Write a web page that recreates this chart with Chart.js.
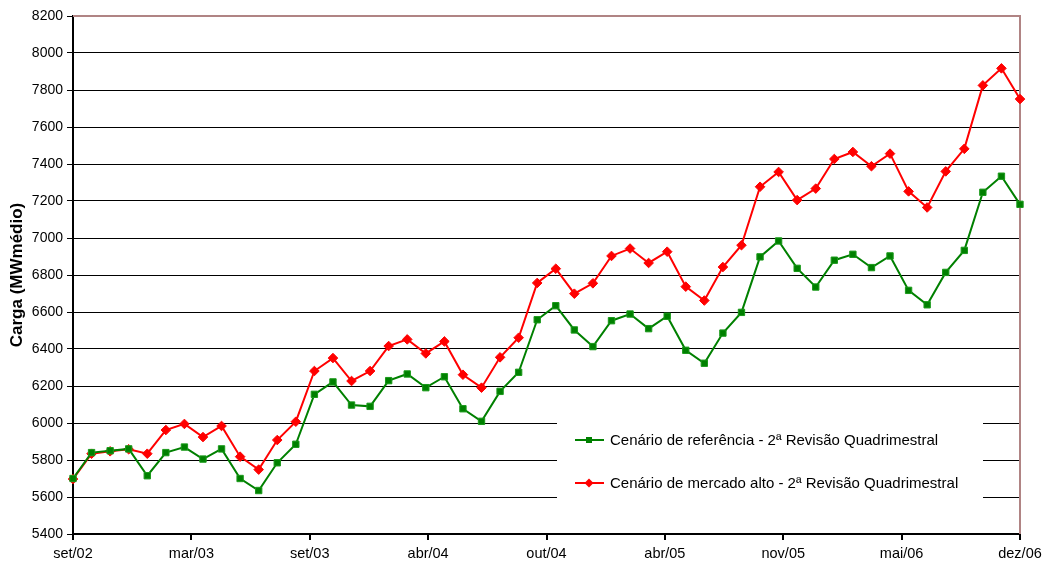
<!DOCTYPE html>
<html>
<head>
<meta charset="utf-8">
<script src="https://cdn.jsdelivr.net/npm/chart.js@4/dist/chart.umd.min.js"></script>
<style>
  html, body { margin: 0; padding: 0; background: #fff; }
  #wrap { position: relative; width: 1050px; height: 568px; }
</style>
</head>
<body>
<div id="wrap"><canvas id="chart"></canvas></div>
<script>
// x positions are month indexes from set/02 (0) to dez/06 (51)
const months = Array.from({ length: 52 }, (_, i) => i)
const tickLabels = ['set/02', 'mar/03', 'set/03', 'abr/04', 'out/04', 'abr/05', 'nov/05', 'mai/06', 'dez/06']

const referencia = [
  5700, 5840, 5850, 5860, 5715, 5840, 5870, 5805, 5860, 5700, 5635, 5785, 5885,
  6155, 6222, 6097, 6090, 6229, 6265, 6191, 6250, 6077, 6009, 6171, 6274, 6558,
  6634, 6503, 6413, 6553, 6589, 6510, 6577, 6393, 6323, 6486, 6598, 6898, 6984,
  6836, 6735, 6880, 6912, 6840, 6903, 6717, 6639, 6814, 6933, 7247, 7334, 7182
]
const mercadoAlto = [
  5697, 5834, 5847, 5858, 5834, 5962, 5995, 5924, 5984, 5818, 5748, 5908, 6007,
  6281, 6351, 6227, 6281, 6416, 6452, 6376, 6441, 6261, 6191, 6355, 6461, 6757,
  6834, 6699, 6755, 6903, 6943, 6865, 6926, 6737, 6662, 6843, 6961, 7277, 7357,
  7205, 7267, 7427, 7465, 7388, 7456, 7252, 7165, 7360, 7482, 7825, 7917, 7751
]

const labelRef = 'Cenário de referência - 2ª Revisão Quadrimestral'
const labelAlto = 'Cenário de mercado alto - 2ª Revisão Quadrimestral'

const FONT = '"Liberation Sans", Arial, sans-serif'

// frame (top/right brownish border) and the legend box that sits over the grid
const framePlugin = {
  id: 'frameAndLegend',
  beforeDatasetsDraw (chart) {
    const { ctx, chartArea: a } = chart
    ctx.save()
    ctx.strokeStyle = '#b08484'
    ctx.lineWidth = 2
    ctx.beginPath()
    ctx.moveTo(a.left, a.top)
    ctx.lineTo(a.right, a.top)
    ctx.lineTo(a.right, a.bottom)
    ctx.stroke()

    // legend
    ctx.fillStyle = '#fff'
    ctx.fillRect(557, 405, 426, 104)
    const rows = chart.data.datasets.map((ds, i) => ({ ds, y: 440 + i * 43 }))
    ctx.font = '15px ' + FONT
    ctx.textBaseline = 'middle'
    rows.forEach(({ ds, y }) => {
      ctx.strokeStyle = ds.borderColor
      ctx.lineWidth = 2
      ctx.beginPath()
      ctx.moveTo(575, y)
      ctx.lineTo(604, y)
      ctx.stroke()
      ctx.fillStyle = ds.pointBackgroundColor
      ctx.beginPath()
      if (ds.pointStyle === 'rect') {
        ctx.rect(586, y - 3, 6, 6)
      } else {
        ctx.moveTo(589, y - 4.5); ctx.lineTo(593.5, y); ctx.lineTo(589, y + 4.5); ctx.lineTo(584.5, y)
        ctx.closePath()
      }
      ctx.fill()
      ctx.fillStyle = '#000'
      ctx.fillText(ds.label, 610, y + 1)
    })
    ctx.restore()
  }
}

new Chart(document.getElementById('chart'), {
  type: 'line',
  data: {
    datasets: [
      {
        label: labelRef,
        data: months.map((m, i) => ({ x: m, y: referencia[i] })),
        borderColor: '#008000',
        backgroundColor: '#008000',
        pointBackgroundColor: '#008000',
        pointBorderColor: '#1a9a1a',
        pointBorderWidth: 1,
        pointStyle: 'rect',
        pointRadius: 4.5,
        borderWidth: 2,
        tension: 0,
        clip: false
      },
      {
        label: labelAlto,
        data: months.map((m, i) => ({ x: m, y: mercadoAlto[i] })),
        borderColor: '#ff0000',
        backgroundColor: '#ff0000',
        pointBackgroundColor: '#ff0000',
        pointBorderColor: '#ff0000',
        pointBorderWidth: 1,
        pointStyle: 'rectRot',
        pointRadius: 4.8,
        borderWidth: 2,
        tension: 0,
        clip: false
      }
    ]
  },
  options: {
    responsive: true,
    maintainAspectRatio: false,
    animation: false,
    layout: { padding: { top: 16, right: 30, left: 0, bottom: 0 } },
    plugins: {
      legend: { display: false },
      tooltip: { enabled: false }
    },
    scales: {
      x: {
        type: 'linear',
        min: 0,
        max: 51,
        afterBuildTicks (scale) {
          scale.ticks = tickLabels.map((_, k) => ({ value: k * 51 / 8 }))
        },
        afterFit (scale) { scale.height = 34 },
        ticks: {
          autoSkip: false,
          maxRotation: 0,
          padding: 5,
          color: '#000',
          font: { family: FONT, size: 14.5 },
          callback: (v, i) => tickLabels[i]
        },
        grid: { drawOnChartArea: false, drawTicks: true, tickLength: 6, color: '#000', lineWidth: 2 },
        border: { display: true, color: '#000', width: 2 }
      },
      y: {
        min: 5400,
        max: 8200,
        afterFit (scale) { scale.width = 73 },
        ticks: {
          stepSize: 200,
          padding: 4,
          color: '#000',
          font: { family: FONT, size: 14 },
          callback: v => String(v)
        },
        grid: { color: '#000', lineWidth: 1, tickLength: 6 },
        border: { display: true, color: '#000', width: 2 },
        title: {
          display: true,
          text: 'Carga (MWmédio)',
          color: '#000',
          font: { family: FONT, size: 17, weight: 'bold' },
          padding: { top: 7, bottom: 0 }
        }
      }
    }
  },
  plugins: [framePlugin]
})
</script>
</body>
</html>
